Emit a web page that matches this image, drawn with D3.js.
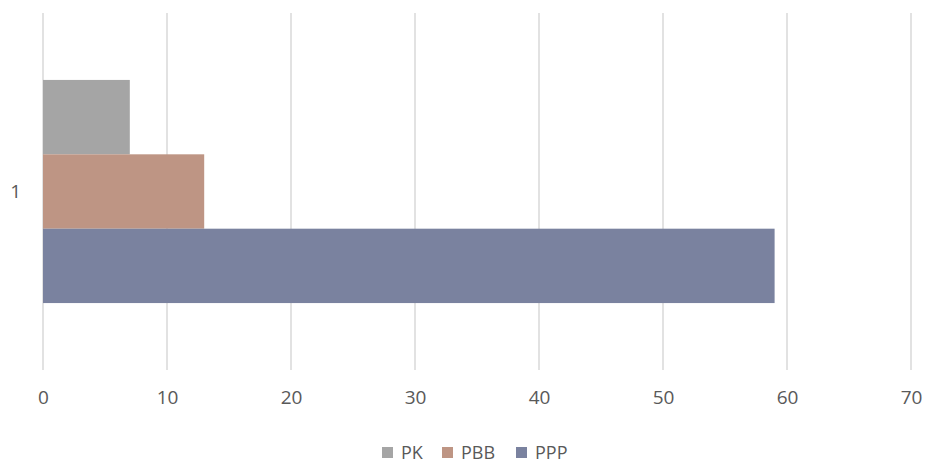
<!DOCTYPE html>
<meta charset="utf-8">
<script src="https://d3js.org/d3.v7.min.js"></script>
<style>
  body { margin: 0; background: #fff; }
  text { font-family: "Open Sans", "Liberation Sans", sans-serif; }
</style>
<div id="my_dataviz"></div>
<script>

// data
var categories = ["1"];
var seriesNames = ["PK", "PBB", "PPP"];
var seriesValues = [7, 13, 59];
var seriesColors = ["#a5a5a5", "#be9584", "#7a829f"];
var xTicks = [0, 10, 20, 30, 40, 50, 60, 70];

var width = 925, height = 463;
var margin = {top: 13, right: 14, bottom: 93, left: 43};

var svg = d3.select("#my_dataviz")
  .append("svg")
    .attr("width", width)
    .attr("height", height);

var x = d3.scaleLinear()
  .domain([0, 70])
  .range([margin.left, width - margin.right]);

var y = d3.scaleBand()
  .domain(categories)
  .range([margin.top, height - margin.bottom])
  .paddingInner(0)
  .paddingOuter(0.3);

var ySub = d3.scaleBand()
  .domain(seriesNames)
  .range([0, y.bandwidth()]);

// gridlines
svg.append("g")
  .selectAll("line")
  .data(xTicks)
  .enter()
  .append("line")
    .attr("x1", function(d){ return x(d) })
    .attr("x2", function(d){ return x(d) })
    .attr("y1", margin.top)
    .attr("y2", height - margin.bottom)
    .style("stroke", "#d9d9d9")
    .style("stroke-width", 1.5);

// x axis labels
var xAxis = svg.append("g")
  .attr("transform", "translate(0," + (height - margin.bottom + 12) + ")")
  .call(d3.axisBottom(x).tickValues(xTicks).tickSize(0).tickPadding(9));
xAxis.select(".domain").remove();
xAxis.selectAll("text").style("font-size", "19px").attr("fill", "#595959");

// y axis label
var yAxis = svg.append("g")
  .attr("transform", "translate(" + 21 + ",0)")
  .call(d3.axisLeft(y).tickSize(0).tickPadding(0));
yAxis.select(".domain").remove();
yAxis.selectAll("text").style("font-size", "19px").attr("fill", "#595959");

// bars
var rows = seriesNames.map(function(s, i){ return {name: s, value: seriesValues[i], color: seriesColors[i], cat: categories[0]} });
svg.append("g")
  .selectAll("rect")
  .data(rows)
  .enter()
  .append("rect")
    .attr("x", x(0))
    .attr("y", function(d){ return y(d.cat) + ySub(d.name) })
    .attr("width", function(d){ return x(d.value) - x(0) })
    .attr("height", ySub.bandwidth())
    .style("fill", function(d){ return d.color });

// legend
var legendX = [382, 442, 516];
var legend = svg.append("g")
  .selectAll("g")
  .data(rows)
  .enter()
  .append("g")
    .attr("transform", function(d, i){ return "translate(" + legendX[i] + ",447)" });
legend.append("rect")
  .attr("width", 11)
  .attr("height", 11)
  .style("fill", function(d){ return d.color });
legend.append("text")
  .attr("x", 19)
  .attr("y", 6)
  .attr("dy", "0.35em")
  .style("font-size", "18px")
  .attr("fill", "#595959")
  .text(function(d){ return d.name });

</script>
